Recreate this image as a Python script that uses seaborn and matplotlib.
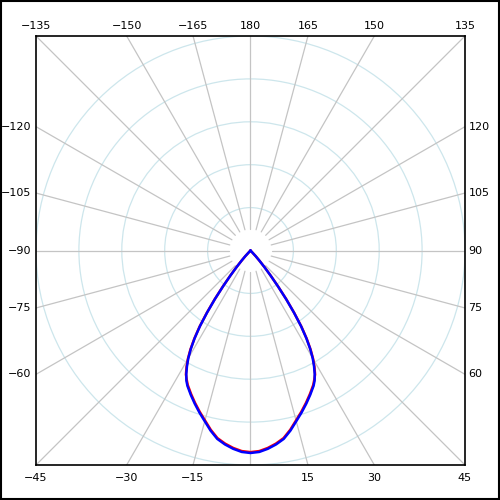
import numpy as np
import pandas as pd
import matplotlib.pyplot as plt
import seaborn as sns
from matplotlib.patches import Rectangle, Circle

# ------------------------------------------
# Data: intensity (0..45 deg, mirrored)
# ------------------------------------------
angles = [0, 2.5, 5, 7.5, 10, 12.5, 15, 17.5, 20, 22.5, 25, 26.25, 27.5, 28.75, 30,
          31.25, 32.5, 33.75, 35, 36.25, 37.5, 38.75, 40, 41.25, 42.5, 45]
blue_vals = [236, 235, 232, 228, 223, 215, 206, 198, 190, 182, 174, 169, 162, 154, 145,
             134, 121, 106, 88, 70, 52, 37, 25, 16, 9, 0]
red_vals = [235, 234, 231, 227, 222, 214, 205, 197, 189, 181, 173, 168, 163, 155, 146,
            135, 122, 107, 89, 71, 53, 38, 26, 16, 9, 0]

r_max = 250
ring_values = [50, 100, 150, 200, 250]
spoke_angles = list(range(-180, 180, 15))
label_angles = [-135, -150, -165, 180, 165, 150, 135,
                -120, -105, -90, -75, -60, 120, 105, 90, 75, 60,
                -45, -30, -15, 15, 30, 45]


def to_xy(theta_deg, r):
    t = np.radians(theta_deg)
    return r * np.sin(t), -r * np.cos(t)


def full_curve(vals):
    th = [-a for a in angles[::-1]] + angles[1:]
    rr = vals[::-1] + vals[1:]
    x, y = to_xy(np.array(th), np.array(rr, dtype=float))
    return pd.DataFrame({"x": x, "y": y})


sns.set_style("white")
plt.rcParams['font.family'] = ['DejaVu Sans']

fig = plt.figure(figsize=(5, 5), dpi=100)
ax = fig.add_axes([0.072, 0.07, 0.858, 0.858])
ax.set_xlim(-r_max, r_max)
ax.set_ylim(-r_max, r_max)
ax.set_aspect('equal')
ax.set_xticks([])
ax.set_yticks([])
for s in ax.spines.values():
    s.set_color('black')
    s.set_linewidth(1.2)

# rings
for rv in ring_values:
    ax.add_patch(Circle((0, 0), rv, fill=False, ec='#cde6ec', lw=0.9, zorder=1))

# spokes
for a in spoke_angles:
    x0, y0 = to_xy(a, 25)
    x1, y1 = to_xy(a, r_max * 1.5)
    ax.plot([x0, x1], [y0, y1], color='#c4c4c4', lw=0.9, zorder=1)

# curves
sns.lineplot(data=full_curve(red_vals), x="x", y="y", sort=False, estimator=None,
             color='red', lw=1.8, ax=ax, zorder=3)
sns.lineplot(data=full_curve(blue_vals), x="x", y="y", sort=False, estimator=None,
             color='blue', lw=1.8, ax=ax, zorder=4)
ax.set_xlabel("")
ax.set_ylabel("")

# angle labels around the square
for a in label_angles:
    txt = str(a).replace('-', '\u2212')
    kw = dict(fontsize=8, color='black', clip_on=False)
    if abs(a) <= 45:
        x = r_max * np.tan(np.radians(a))
        ax.text(x, -r_max - 15, txt, ha='center', va='center', **kw)
    elif abs(a) >= 135:
        x = r_max * np.tan(np.radians(180 - a)) if a > 0 else -r_max * np.tan(np.radians(180 + a))
        ax.text(x, r_max + 12, txt, ha='center', va='center', **kw)
    else:
        y = -r_max / np.tan(np.radians(abs(a)))
        if a < 0:
            ax.text(-r_max - 6, y, txt, ha='right', va='center', **kw)
        else:
            ax.text(r_max + 4, y, txt, ha='left', va='center', **kw)

fig.patches.append(Rectangle((0.002, 0.002), 0.996, 0.996, transform=fig.transFigure,
                             fill=False, ec='black', lw=1.5))

fig.savefig("out.png", dpi=100)
